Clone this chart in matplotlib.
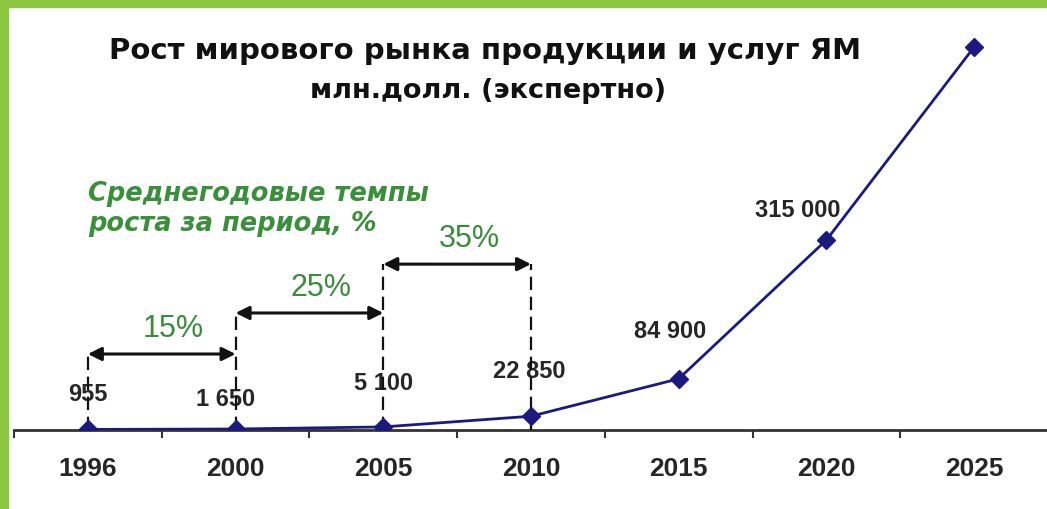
import numpy as np
import matplotlib.pyplot as plt
from matplotlib.patches import Rectangle

plt.rcParams['font.family'] = ['Liberation Sans', 'DejaVu Sans']

# данные
years = ["1996", "2000", "2005", "2010", "2015", "2020", "2025"]
values = [955, 1650, 5100, 22850, 84900, 315000, 635000]
value_labels = ["955", "1 650", "5 100", "22 850", "84 900", "315 000", ""]

# темпы роста за период
rate_labels = ["15%", "25%", "35%"]
rate_start = [0, 1, 2]
rate_end = [1, 2, 3]
rate_level = [126000, 194000, 275000]

fig = plt.figure(figsize=(10.47, 5.10), dpi=100)

# зелёная рамка слева и сверху
fig.patches.append(Rectangle((0, 0), 8 / 1047, 1, transform=fig.transFigure,
                             color="#8cc641", zorder=0))
fig.patches.append(Rectangle((0, 1 - 8 / 510), 1, 8 / 510, transform=fig.transFigure,
                             color="#8cc641", zorder=0))

ax = fig.add_axes([14 / 1047, 79 / 510, 1034 / 1047, 421 / 510])
ax.patch.set_alpha(0)

x = np.arange(len(years))
ax.plot(x, values, color="#1a1a80", lw=2, marker="D", ms=9.5, zorder=5)

# подписи значений (смещение в пунктах)
label_dx = [0, -7, 0, -1.5, -6.5, -21, 0]
label_dy = [26, 22, 32, 33, 34.5, 22, 0]
for i, lab in enumerate(value_labels):
    ax.annotate(lab, (x[i], values[i]), xytext=(label_dx[i], label_dy[i]),
                textcoords="offset points", ha="center", va="center",
                fontsize=17, fontweight="bold", color="#262626")

# стрелки и пунктирные линии
for i in range(len(rate_labels)):
    x0, x1, lev = rate_start[i], rate_end[i], rate_level[i]
    ax.annotate("", xy=(x1, lev), xytext=(x0, lev),
                arrowprops=dict(arrowstyle="<|-|>", color="#111111", lw=2.2,
                                mutation_scale=20, shrinkA=0, shrinkB=0))
    ax.text((x0 + x1) / 2 + 0.08, lev + 19000, rate_labels[i], ha="center",
            va="bottom", fontsize=22, color="#3c8c3c")

dash_top = [126000, 194000, 275000, 275000]
for i, top in enumerate(dash_top):
    ax.plot([i, i], [0, top], color="#111111", lw=1.6, ls=(0, (6, 3)), zorder=3)

ax.text(0, 321000, "Среднегодовые темпы\nроста за период, %",
        family=["DejaVu Sans"], style="italic", fontweight="bold",
        fontsize=18.5, color="#3a8f3a", ha="left", va="bottom", linespacing=1.2)

# заголовок
fig.text(0.463, 0.900, "Рост мирового рынка продукции и услуг ЯМ",
         family=["DejaVu Sans"], ha="center", va="center", fontsize=21,
         fontweight="bold", color="#111111")
fig.text(0.466, 0.822, "млн.долл. (экспертно)",
         family=["DejaVu Sans"], ha="center", va="center", fontsize=19.5,
         fontweight="bold", color="#111111")

ax.set_xlim(-0.5, 6.5)
ax.set_ylim(0, 698000)
for s in ["left", "right", "top"]:
    ax.spines[s].set_visible(False)
ax.spines["bottom"].set_color("#333333")
ax.spines["bottom"].set_linewidth(2)
ax.set_yticks([])
ax.set_xticks(x)
ax.set_xticklabels(years, fontsize=19, fontweight="bold", color="#262626")
ax.tick_params(axis="x", which="major", length=0, pad=19)
ax.set_xticks(np.arange(-0.5, 6.5, 1), minor=True)
ax.tick_params(axis="x", which="minor", length=6, width=1.5, color="#333333",
               direction="out")

plt.savefig("out.png", dpi=100)
